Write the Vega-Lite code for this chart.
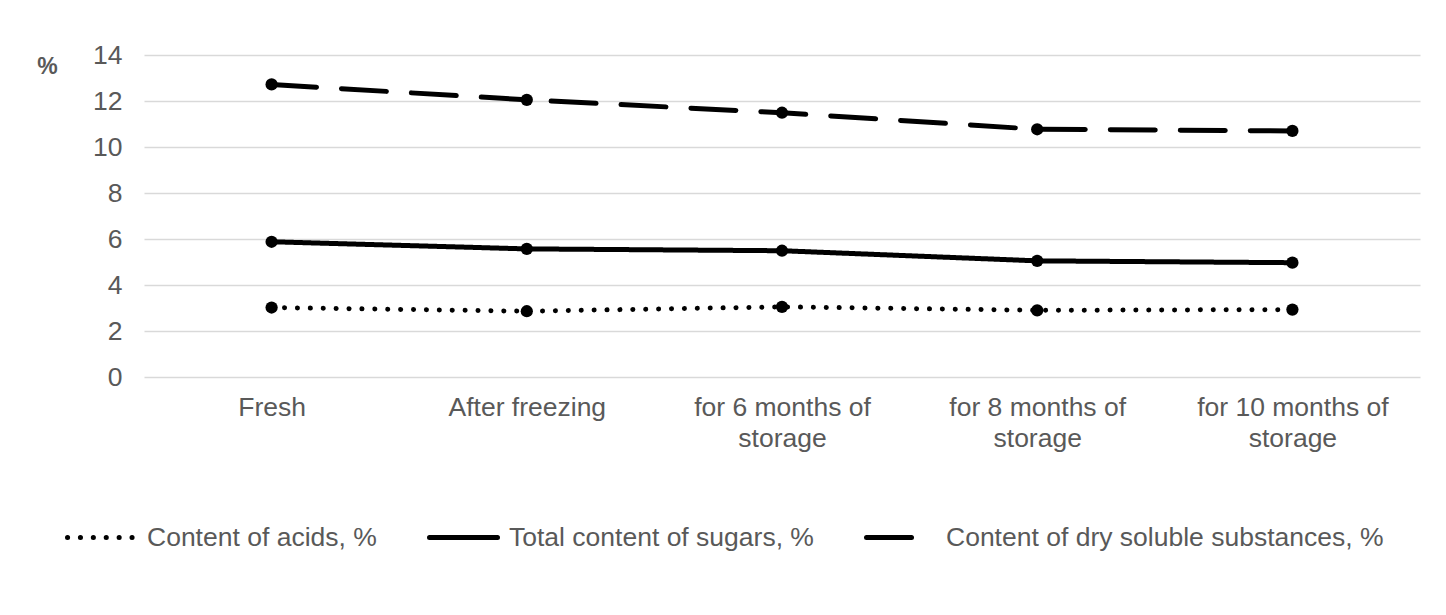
{
  "$schema": "https://vega.github.io/schema/vega-lite/v6.json",
  "autosize": "none",
  "width": 1276,
  "height": 322,
  "padding": {"left": 144, "top": 55, "right": 26, "bottom": 238},
  "background": "white",
  "config": {
    "view": {"stroke": null},
    "font": "Liberation Sans"
  },
  "data": {
    "values": [
      {"stage": "Fresh", "series": "Content of acids, %", "value": 3.02},
      {"stage": "After freezing", "series": "Content of acids, %", "value": 2.86},
      {"stage": "for 6 months of|storage", "series": "Content of acids, %", "value": 3.05},
      {"stage": "for 8 months of|storage", "series": "Content of acids, %", "value": 2.9},
      {"stage": "for 10 months of|storage", "series": "Content of acids, %", "value": 2.93},
      {"stage": "Fresh", "series": "Total content of sugars, %", "value": 5.88},
      {"stage": "After freezing", "series": "Total content of sugars, %", "value": 5.57},
      {"stage": "for 6 months of|storage", "series": "Total content of sugars, %", "value": 5.49},
      {"stage": "for 8 months of|storage", "series": "Total content of sugars, %", "value": 5.05},
      {"stage": "for 10 months of|storage", "series": "Total content of sugars, %", "value": 4.97},
      {"stage": "Fresh", "series": "Content of dry soluble substances, %", "value": 12.72},
      {"stage": "After freezing", "series": "Content of dry soluble substances, %", "value": 12.05},
      {"stage": "for 6 months of|storage", "series": "Content of dry soluble substances, %", "value": 11.49},
      {"stage": "for 8 months of|storage", "series": "Content of dry soluble substances, %", "value": 10.77},
      {"stage": "for 10 months of|storage", "series": "Content of dry soluble substances, %", "value": 10.7}
    ]
  },
  "encoding": {
    "x": {
      "field": "stage",
      "type": "nominal",
      "sort": ["Fresh", "After freezing", "for 6 months of|storage", "for 8 months of|storage", "for 10 months of|storage"],
      "scale": {"type": "point", "padding": 0.5},
      "axis": {
        "title": null,
        "labelAngle": 0,
        "labelExpr": "split(datum.label, '|')",
        "labelFont": "Liberation Sans",
        "labelFontSize": 26.5,
        "labelColor": "#595959",
        "labelLineHeight": 31,
        "labelPadding": 17,
        "labelLimit": 400,
        "ticks": false,
        "domain": false,
        "grid": false
      }
    },
    "y": {
      "field": "value",
      "type": "quantitative",
      "scale": {"domain": [0, 14], "nice": false},
      "axis": {
        "values": [0, 2, 4, 6, 8, 10, 12, 14],
        "title": "%",
        "titleAngle": 0,
        "titleX": -97,
        "titleY": 11,
        "titleAlign": "center",
        "titleBaseline": "middle",
        "titleFont": "Liberation Sans",
        "titleFontSize": 23,
        "titleFontWeight": "bold",
        "titleColor": "#595959",
        "labelFont": "Liberation Sans",
        "labelFontSize": 26.5,
        "labelColor": "#595959",
        "labelPadding": 22,
        "ticks": false,
        "domain": false,
        "grid": true,
        "gridColor": "#d9d9d9",
        "gridWidth": 1.6
      }
    }
  },
  "layer": [
    {
      "mark": {"type": "line", "color": "black", "strokeWidth": 5, "strokeCap": "round"},
      "encoding": {
        "detail": {"field": "series"},
        "strokeDash": {
          "field": "series",
          "type": "nominal",
          "scale": {
            "domain": ["Content of acids, %", "Total content of sugars, %", "Content of dry soluble substances, %"],
            "range": [[0.1, 12.8], [1, 0], [45, 25]]
          },
          "legend": {
            "title": null,
            "orient": "none",
            "direction": "horizontal",
            "legendX": -79,
            "legendY": 446,
            "symbolType": "stroke",
            "symbolSize": 4624,
            "symbolStrokeWidth": 5,
            "symbolStrokeColor": "black",
            "labelFont": "Liberation Sans",
            "labelFontSize": 26.5,
            "labelColor": "#595959",
            "labelOffset": 9,
            "columnPadding": 42,
            "labelLimit": 600,
            "encode": {"symbols": {"update": {"strokeCap": {"value": "round"}}}}
          }
        }
      }
    },
    {
      "mark": {"type": "point", "filled": true, "color": "black", "opacity": 1, "size": 150},
      "encoding": {"detail": {"field": "series"}}
    }
  ]
}
